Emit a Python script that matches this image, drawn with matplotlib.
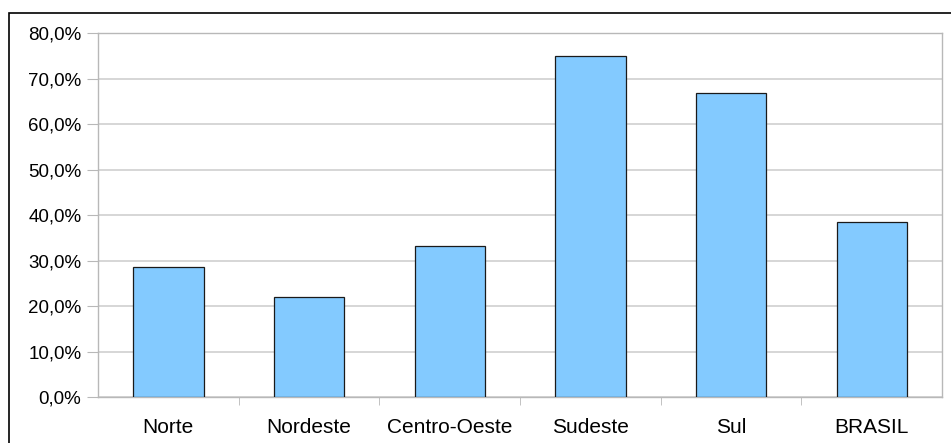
import matplotlib
matplotlib.use("Agg")
import matplotlib.pyplot as plt
from matplotlib.patches import Rectangle
from matplotlib.ticker import FuncFormatter, MultipleLocator, FixedLocator

categories = ["Norte", "Nordeste", "Centro-Oeste", "Sudeste", "Sul", "BRASIL"]
values = [28.6, 22.0, 33.3, 75.1, 66.8, 38.6]

plt.rcParams['font.family'] = ['Liberation Sans', 'DejaVu Sans']

fig = plt.figure(figsize=(9.51, 4.43), dpi=100)
ax = fig.add_axes([98/951, 1-397.3/443, (942-98)/951, (397.3-33.3)/443])

x = list(range(len(categories)))
ax.bar(x, values, width=0.5, color='#83CAFF', edgecolor='#1a1a1a', linewidth=0.9, zorder=3)

ax.set_xlim(-0.5, len(categories)-0.5)
ax.set_ylim(0, 80)
ax.yaxis.set_major_locator(MultipleLocator(10))
ax.yaxis.set_major_formatter(FuncFormatter(lambda v, p: f"{v:.1f}%".replace('.', ',')))
ax.set_xticks(x)
ax.set_xticklabels(categories)
ax.xaxis.set_minor_locator(FixedLocator([i + 0.5 for i in range(len(categories)-1)]))

ax.grid(axis='y', color='#d0d0d0', linewidth=1.2, zorder=0)
for s in ax.spines.values():
    s.set_color('#b8b8b8')
    s.set_linewidth(1.0)

ax.tick_params(axis='y', which='major', length=8, color='#b8b8b8', labelsize=13.5, pad=4, labelcolor='#000000')
ax.tick_params(axis='x', which='major', length=0, labelsize=15, pad=15, labelcolor='#000000')
ax.tick_params(axis='x', which='minor', length=6, color='#b8b8b8', direction='out')

# outer chart border
fig.patches.append(Rectangle((9/951, -0.1), 1.2, 1-13/443+0.1, transform=fig.transFigure,
                             fill=False, edgecolor='#000000', linewidth=1.2, zorder=-1))

fig.savefig("out.png", dpi=100)
